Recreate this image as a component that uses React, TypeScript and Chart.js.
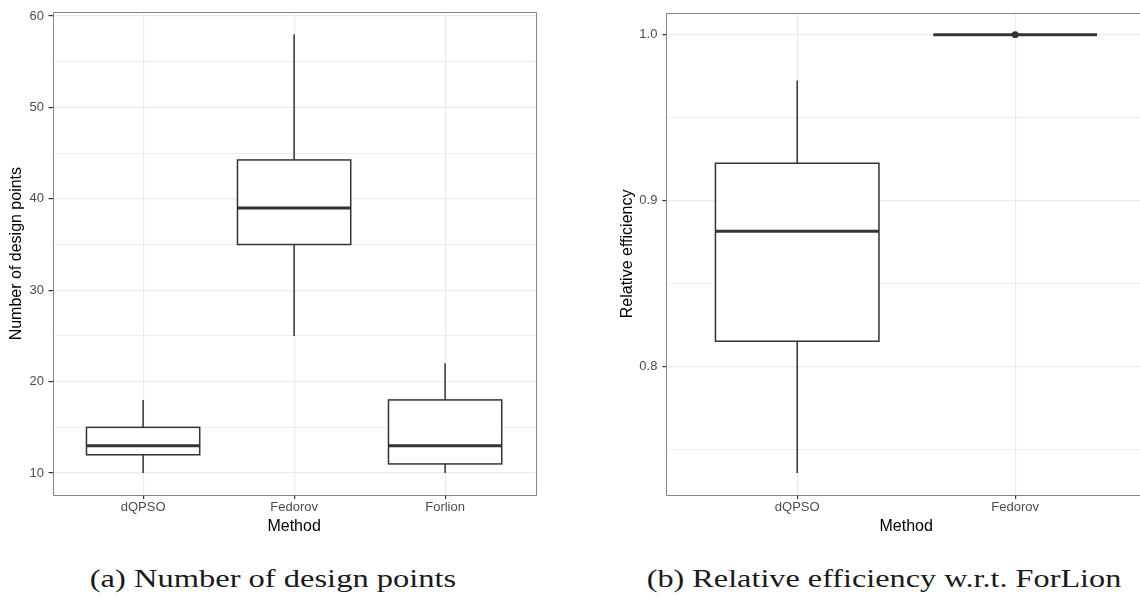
import React, { useEffect, useRef } from "react";
import { Chart, registerables } from "chart.js";

Chart.register(...registerables);

// ---------- data (left panel: number of design points) ----------
const leftCategories = ["dQPSO", "Fedorov", "Forlion"];
const leftLower = [10, 25, 10];
const leftQ1 = [12, 35, 11];
const leftMedian = [13, 39, 13];
const leftQ3 = [15, 44.25, 18];
const leftUpper = [18, 58, 22];
const leftMajorTicks = [10, 20, 30, 40, 50, 60];
const leftMinorTicks = [15, 25, 35, 45, 55];

// ---------- data (right panel: relative efficiency) ----------
const rightCategories = ["dQPSO", "Fedorov"];
const rightLower = [0.7357, 1.0];
const rightQ1 = [0.8152, 1.0];
const rightMedian = [0.8815, 1.0];
const rightQ3 = [0.9225, 1.0];
const rightUpper = [0.9724, 1.0];
const rightOutlierCategory = [2];
const rightOutlierValue = [1.0];
const rightMajorTicks = [0.8, 0.9, 1.0];
const rightMinorTicks = [0.75, 0.85, 0.95];

const DARK = "#333333";
const GRID = "#EBEBEB";
const TICKTXT = "#4D4D4D";
const SANS = "'Liberation Sans', Arial, Helvetica, sans-serif";
const SERIF = "'Liberation Serif', 'Times New Roman', serif";

type Stats = { lower: number[]; q1: number[]; med: number[]; q3: number[]; upper: number[] };

function makeBoxPlugin(stats: Stats, boxWidth: number) {
  return {
    id: "ggbox",
    beforeDatasetsDraw(chart: any) {
      const { ctx } = chart;
      const x = chart.scales.x;
      const y = chart.scales.y;
      ctx.save();
      ctx.strokeStyle = DARK;
      ctx.lineCap = "butt";
      stats.q1.forEach((_, i) => {
        const c = i + 1;
        const xc = x.getPixelForValue(c);
        const xl = x.getPixelForValue(c - boxWidth / 2);
        const xr = x.getPixelForValue(c + boxWidth / 2);
        const yLo = y.getPixelForValue(stats.lower[i]);
        const yQ1 = y.getPixelForValue(stats.q1[i]);
        const yMed = y.getPixelForValue(stats.med[i]);
        const yQ3 = y.getPixelForValue(stats.q3[i]);
        const yHi = y.getPixelForValue(stats.upper[i]);
        // whiskers
        ctx.lineWidth = 1.5;
        ctx.beginPath();
        ctx.moveTo(xc, yHi);
        ctx.lineTo(xc, yQ3);
        ctx.moveTo(xc, yQ1);
        ctx.lineTo(xc, yLo);
        ctx.stroke();
        // box
        ctx.fillStyle = "#FFFFFF";
        ctx.fillRect(xl, yQ3, xr - xl, yQ1 - yQ3);
        ctx.lineWidth = 1.5;
        ctx.strokeRect(xl, yQ3, xr - xl, yQ1 - yQ3);
        // median
        ctx.lineWidth = 3;
        ctx.beginPath();
        ctx.moveTo(xl, yMed);
        ctx.lineTo(xr, yMed);
        ctx.stroke();
      });
      ctx.restore();
    },
  };
}

function makeBorderPlugin(drawRight: boolean) {
  return {
    id: "panelBorder",
    afterDraw(chart: any) {
      const { ctx, chartArea: a } = chart;
      const l = Math.round(a.left) + 0.5;
      const t = Math.round(a.top) + 0.5;
      const r = Math.round(a.right) + 0.5;
      const b = Math.round(a.bottom) + 0.5;
      ctx.save();
      ctx.strokeStyle = "#858585";
      ctx.lineWidth = 1;
      ctx.beginPath();
      ctx.moveTo(r, t);
      ctx.lineTo(l, t);
      ctx.lineTo(l, b);
      ctx.lineTo(r, b);
      if (drawRight) ctx.lineTo(r, t);
      ctx.stroke();
      ctx.restore();
    },
  };
}

function near(a: number, list: number[]) {
  return list.some((v) => Math.abs(v - a) < 1e-9);
}

type PanelSpec = {
  categories: string[];
  stats: Stats;
  majors: number[];
  minors: number[];
  yTitle: string;
  decimals: number;
  yAxisWidth: number;
  xAxisHeight: number;
  padRight: number;
  yTitlePad: number;
  yTickPad: number;
  drawRight: boolean;
  outliers: { x: number; y: number }[];
};

function buildConfig(p: PanelSpec): any {
  const allVals = [...p.stats.lower, ...p.stats.upper, ...p.outliers.map((o) => o.y)];
  const lo = Math.min(...allVals);
  const hi = Math.max(...allVals);
  const span = hi - lo;
  const yMin = lo - 0.05 * span;
  const yMax = hi + 0.05 * span;
  const n = p.categories.length;
  return {
    type: "scatter",
    data: {
      datasets: [
        {
          data: p.outliers,
          pointRadius: 3.4,
          pointHoverRadius: 3.4,
          backgroundColor: DARK,
          borderWidth: 0,
        },
      ],
    },
    options: {
      responsive: false,
      devicePixelRatio: 1,
      animation: false,
      events: [],
      layout: { padding: { top: 10, right: p.padRight, left: 0, bottom: 0 } },
      plugins: { legend: { display: false }, tooltip: { enabled: false } },
      scales: {
        x: {
          type: "linear",
          min: 0.4,
          max: n + 0.6,
          afterBuildTicks: (s: any) => {
            s.ticks = p.categories.map((_, i) => ({ value: i + 1 }));
          },
          afterFit: (s: any) => {
            s.height = p.xAxisHeight;
          },
          ticks: {
            autoSkip: false,
            maxRotation: 0,
            minRotation: 0,
            color: TICKTXT,
            font: { family: SANS, size: 13 },
            padding: 1,
            callback: (v: number) => p.categories[Math.round(v) - 1] ?? "",
          },
          grid: { color: GRID, lineWidth: 1.2, tickLength: 4, tickColor: DARK, tickWidth: 1.2 },
          border: { display: false },
          title: {
            display: true,
            text: "Method",
            color: "#000000",
            font: { family: SANS, size: 16 },
            padding: { top: 0, bottom: 9 },
          },
        },
        y: {
          type: "linear",
          min: yMin,
          max: yMax,
          afterBuildTicks: (s: any) => {
            s.ticks = [...p.majors, ...p.minors].sort((a, b) => a - b).map((v) => ({ value: v }));
          },
          afterFit: (s: any) => {
            s.width = p.yAxisWidth;
          },
          ticks: {
            autoSkip: false,
            color: TICKTXT,
            font: { family: SANS, size: 13 },
            padding: p.yTickPad,
            callback: (v: number) => (near(v, p.majors) ? v.toFixed(p.decimals) : ""),
          },
          grid: {
            color: GRID,
            lineWidth: (c: any) => (c.tick && near(c.tick.value, p.majors) ? 1.2 : 0.8),
            tickLength: 4,
            tickColor: (c: any) => (c.tick && near(c.tick.value, p.majors) ? DARK : "rgba(0,0,0,0)"),
            tickWidth: 1.2,
          },
          border: { display: false },
          title: {
            display: true,
            text: p.yTitle,
            color: "#000000",
            font: { family: SANS, size: 16 },
            padding: { top: p.yTitlePad, bottom: 0 },
          },
        },
      },
    },
    plugins: [makeBoxPlugin(p.stats, 0.75), makeBorderPlugin(p.drawRight)],
  };
}

function Panel(props: { spec: PanelSpec; left: number; width: number; height: number }) {
  const ref = useRef<HTMLCanvasElement | null>(null);
  useEffect(() => {
    if (!ref.current) return;
    const chart = new Chart(ref.current, buildConfig(props.spec));
    return () => chart.destroy();
  }, []);
  return (
    <canvas
      ref={ref}
      width={props.width}
      height={props.height}
      style={{ position: "absolute", left: props.left, top: 0, width: props.width, height: props.height }}
    />
  );
}

const leftSpec: PanelSpec = {
  categories: leftCategories,
  stats: { lower: leftLower, q1: leftQ1, med: leftMedian, q3: leftQ3, upper: leftUpper },
  majors: leftMajorTicks,
  minors: leftMinorTicks,
  yTitle: "Number of design points",
  decimals: 0,
  yAxisWidth: 52.5,
  xAxisHeight: 50,
  padRight: 24.3,
  yTitlePad: 7.4,
  yTickPad: 4.5,
  drawRight: true,
  outliers: [],
};

const rightSpec: PanelSpec = {
  categories: rightCategories,
  stats: { lower: rightLower, q1: rightQ1, med: rightMedian, q3: rightQ3, upper: rightUpper },
  majors: rightMajorTicks,
  minors: rightMinorTicks,
  yTitle: "Relative efficiency",
  decimals: 1,
  yAxisWidth: 86.4,
  xAxisHeight: 50,
  padRight: 4,
  yTitlePad: 38.4,
  yTickPad: 5,
  drawRight: false,
  outliers: rightOutlierCategory.map((c, i) => ({ x: c, y: rightOutlierValue[i] })),
};

function Caption(props: { text: string; center: number; scale: number }) {
  return (
    <div
      style={{
        position: "absolute",
        left: props.center - 350,
        width: 700,
        top: 566.4,
        textAlign: "center",
        fontFamily: SERIF,
        fontSize: 25,
        lineHeight: "25px",
        color: "#1A1A1A",
        whiteSpace: "nowrap",
        transform: `scaleX(${props.scale})`,
        transformOrigin: "50% 50%",
      }}
    >
      {props.text}
    </div>
  );
}

export default function App() {
  return (
    <div
      style={{
        position: "absolute",
        left: 0,
        top: 0,
        width: 1140,
        height: 599,
        overflow: "hidden",
        background: "#FFFFFF",
      }}
    >
      <Panel spec={leftSpec} left={0} width={560} height={545} />
      <Panel spec={rightSpec} left={580} width={570} height={545} />
      <Caption text="(a) Number of design points" center={272.9} scale={1.3} />
      <Caption text="(b) Relative efficiency w.r.t. ForLion" center={883.6} scale={1.29} />
    </div>
  );
}
